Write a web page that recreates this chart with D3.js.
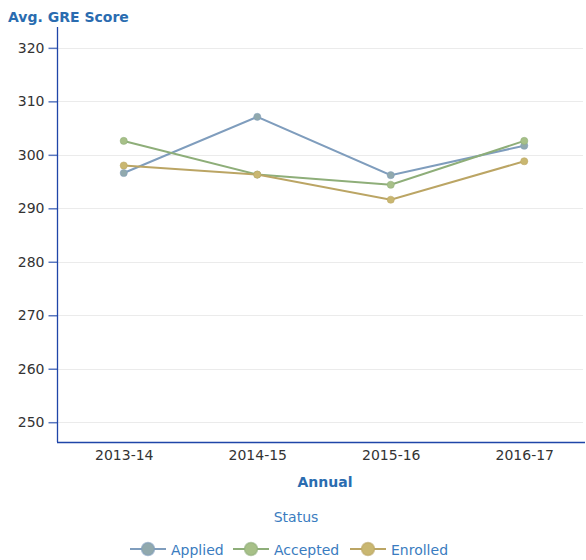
<!DOCTYPE html>
<html>
<head>
<meta charset="utf-8">
<script src="https://cdn.jsdelivr.net/npm/d3@7"></script>
<style>
  body { margin: 0; background: #fff; }
  text { font-family: "DejaVu Sans", Verdana, sans-serif; }
</style>
</head>
<body>
<script>
var years = ["2013-14", "2014-15", "2015-16", "2016-17"];
var yTicks = [250, 260, 270, 280, 290, 300, 310, 320];
var applied = [296.6, 307.1, 296.2, 301.7];
var accepted = [302.6, 296.3, 294.4, 302.6];
var enrolled = [298.0, 296.3, 291.6, 298.8];

var series = [
  { name: "Applied", values: applied, line: "#7f9dbd", dot: "#91a9ad" },
  { name: "Accepted", values: accepted, line: "#8eae79", dot: "#a7c088" },
  { name: "Enrolled", values: enrolled, line: "#bba564", dot: "#c9b771" }
];

var width = 586, height = 560;
var plotLeft = 57, plotRight = 585, plotTop = 27, plotBottom = 442;

var svg = d3.select("body").append("svg")
    .attr("width", width)
    .attr("height", height);

var x = d3.scalePoint()
    .domain(years)
    .range([plotLeft, 591])
    .padding(0.5);

var y = d3.scaleLinear()
    .domain([246.3, 323.9])
    .range([plotBottom, plotTop]);

// grid
svg.append("g")
  .selectAll("line")
    .data(yTicks)
  .enter().append("line")
    .attr("x1", plotLeft)
    .attr("x2", 583)
    .attr("y1", function(d) { return Math.round(y(d)) + 0.5; })
    .attr("y2", function(d) { return Math.round(y(d)) + 0.5; })
    .attr("stroke", "#ebebeb");

// y axis
var yAxis = svg.append("g")
    .attr("transform", "translate(" + (plotLeft + 0.5) + ",0)")
    .call(d3.axisLeft(y).tickValues(yTicks).tickSize(9).tickPadding(4));
yAxis.select(".domain").remove();
yAxis.selectAll(".tick line").attr("stroke", "#5a78c0").attr("stroke-width", 1.5);
yAxis.selectAll(".tick text")
    .attr("fill", "#333")
    .style("font-size", "14px");

svg.append("line")
    .attr("x1", plotLeft + 0.5).attr("x2", plotLeft + 0.5)
    .attr("y1", plotTop).attr("y2", plotBottom)
    .attr("stroke", "#1f45a8").attr("stroke-width", 1.3);

// x axis
var xAxis = svg.append("g")
    .attr("transform", "translate(0," + plotBottom + ")")
    .call(d3.axisBottom(x).tickSize(0).tickPadding(8));
xAxis.select(".domain").remove();
xAxis.selectAll(".tick text")
    .attr("fill", "#333")
    .style("font-size", "14px");

svg.append("line")
    .attr("x1", plotLeft).attr("x2", plotRight)
    .attr("y1", plotBottom + 0.5).attr("y2", plotBottom + 0.5)
    .attr("stroke", "#1f45a8").attr("stroke-width", 1.3);

// titles
svg.append("text")
    .attr("x", 8).attr("y", 22)
    .attr("fill", "#2a6cb0")
    .style("font-size", "14px")
    .style("font-weight", "bold")
    .text("Avg. GRE Score");

svg.append("text")
    .attr("x", 325).attr("y", 487)
    .attr("text-anchor", "middle")
    .attr("fill", "#2a6cb0")
    .style("font-size", "14px")
    .style("font-weight", "bold")
    .text("Annual");

// lines
var line = d3.line()
    .x(function(d, i) { return x(years[i]); })
    .y(function(d) { return y(d); });

var g = svg.append("g");
series.forEach(function(s) {
  g.append("path")
      .datum(s.values)
      .attr("fill", "none")
      .attr("stroke", s.line)
      .attr("stroke-width", 2)
      .attr("d", line);
});
series.forEach(function(s) {
  g.selectAll(null)
      .data(s.values)
    .enter().append("circle")
      .attr("cx", function(d, i) { return x(years[i]); })
      .attr("cy", function(d) { return y(d); })
      .attr("r", 3.6)
      .attr("fill", s.dot)
      .attr("stroke", s.line)
      .attr("stroke-opacity", 0.5)
      .attr("stroke-width", 1);
});

// legend
svg.append("text")
    .attr("x", 296).attr("y", 522)
    .attr("text-anchor", "middle")
    .attr("fill", "#3a7cc0")
    .style("font-size", "14px")
    .text("Status");

var legendX = [130, 233, 350];
var lg = svg.append("g").selectAll("g")
    .data(series)
  .enter().append("g")
    .attr("transform", function(d, i) { return "translate(" + legendX[i] + ",549)"; });
lg.append("line")
    .attr("x1", 0).attr("x2", 36)
    .attr("stroke", function(d) { return d.line; })
    .attr("stroke-width", 2);
lg.append("circle")
    .attr("cx", 18).attr("r", 6.5)
    .attr("fill", function(d) { return d.dot; })
    .attr("stroke", function(d) { return d.line; })
    .attr("stroke-opacity", 0.6)
    .attr("stroke-width", 1.5);
lg.append("text")
    .attr("x", 41).attr("y", 6)
    .attr("fill", "#3a7cc0")
    .style("font-size", "14px")
    .text(function(d) { return d.name; });
</script>
</body>
</html>
